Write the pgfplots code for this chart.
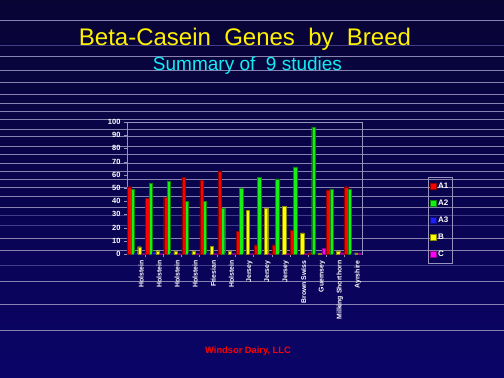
\documentclass[border=0pt]{standalone}
\usepackage{pgfplots}
\pgfplotsset{compat=1.18}
\usepackage{pgfplotstable}
\usepackage{fontspec}
\setmainfont{Liberation Sans}
\definecolor{bgtop}{RGB}{8,4,52}
\definecolor{bgbot}{RGB}{10,4,104}
\definecolor{bgline}{RGB}{135,130,175}
\definecolor{frame}{RGB}{150,148,190}
\definecolor{cA1}{RGB}{255,0,0}
\definecolor{cA2}{RGB}{20,240,20}
\definecolor{cA3}{RGB}{30,30,255}
\definecolor{cB}{RGB}{255,255,0}
\definecolor{cC}{RGB}{255,0,255}
\definecolor{subcyan}{RGB}{20,235,245}

\pgfplotstableread{
x  A1   A2   A3   B    C
0  51   49   0.4  5.5  0.2
1  42   53.5 1.2  2.5  0.2
2  43   55   0.4  2.3  0.2
3  58   40   0.4  2.3  0.2
4  56   40   1.0  6.0  0.2
5  63   35   0.4  2.3  0.2
6  17   50   0.4  33   0.2
7  7    58   0.4  35   0.2
8  7    57   0.4  36   0.2
9  18   66   0.4  16   0.2
10 1    96   1.0  0.5  4.3
11 48.5 49   0.4  2.3  1.0
12 51   49   0.3  0.8  0.8
}\datatable

\begin{document}
\begin{tikzpicture}
\useasboundingbox (0pt,0pt) rectangle (504pt,378pt);
\shade[top color=bgtop, bottom color=bgbot] (0pt,0pt) rectangle (504pt,378pt);
\foreach \yy in {20,56,70,82,94,103,111,119,129,136,146,154,163,171,179,187,196,207,238,250,281,304,330}
  \draw[bgline, line width=0.8pt] (0pt,{(378-\yy)*1pt}) -- (504pt,{(378-\yy)*1pt});
\foreach \yy in {45,215,225,265}
  \draw[bgline!45!bgbot, line width=0.8pt] (0pt,{(378-\yy)*1pt}) -- (504pt,{(378-\yy)*1pt});

\node[text=yellow, font=\fontsize{24}{28}\selectfont, anchor=base, inner sep=0pt] at (245pt,332pt) {Beta-Casein\ \ Genes\ \ by\ \ Breed};
\node[text=subcyan, font=\fontsize{19}{22}\selectfont, anchor=base, inner sep=0pt] at (247.5pt,307.5pt) {Summary of\ \ 9 studies};
\node[text=red, font=\bfseries\fontsize{9.3}{11}\selectfont, anchor=base, inner sep=0pt] at (248pt,24pt) {Windsor Dairy, LLC};

\begin{axis}[
  at={(127pt,124pt)}, anchor=south west,
  scale only axis, width=235pt, height=132pt,
  xmin=-0.5, xmax=12.5, ymin=0, ymax=100,
  ybar=0pt, bar width=3.4pt,
  axis line style={draw=frame, line width=0.6pt},
  xtick={0,...,12},
  xticklabels={Holstein,Holstein,Holstein,Holstein,Friesian,Holstein,Jersey,Jersey,Jersey,Brown Swiss,Guernsey,Milking Shorthorn,Ayrshire},
  minor x tick num=1,
  major x tick style={draw=none},
  minor x tick style={draw=frame},
  minor tick length=3pt,
  ytick={0,10,...,100},
  major tick length=3pt,
  tick align=outside,
  y tick style={draw=frame},
  xtick pos=bottom, ytick pos=left,
  /pgf/number format/assume math mode=true,
  xticklabel style={rotate=90, anchor=east, text=white, font=\bfseries\fontsize{6.9}{8}\selectfont, yshift=-5pt},
  yticklabel style={text=white, font=\bfseries\fontsize{7.5}{8}\selectfont},
  legend style={at={(1.281,0.58)}, anchor=north west, draw=frame, fill=none,
    text=white, font=\bfseries\fontsize{8}{8}\selectfont,
    row sep=6pt, inner xsep=2pt, inner ysep=3pt},
  legend cell align=left,
  myleg/.style={legend image code/.code={\draw[##1, line width=0.3pt] (0pt,-2.8pt) rectangle (5.6pt,2.8pt);}},
]
\addplot[fill=cA1, draw=cA1!55!black, line width=0.3pt, myleg] table[x=x,y=A1]{\datatable};
\addplot[fill=cA2, draw=cA2!55!black, line width=0.3pt, myleg] table[x=x,y=A2]{\datatable};
\addplot[fill=cA3, draw=cA3!55!black, line width=0.3pt, myleg] table[x=x,y=A3]{\datatable};
\addplot[fill=cB, draw=cB!55!black, line width=0.3pt, myleg] table[x=x,y=B]{\datatable};
\addplot[fill=cC, draw=cC!55!black, line width=0.3pt, myleg] table[x=x,y=C]{\datatable};
\legend{A1,A2,A3,B,C}
\end{axis}
\end{tikzpicture}
\end{document}
